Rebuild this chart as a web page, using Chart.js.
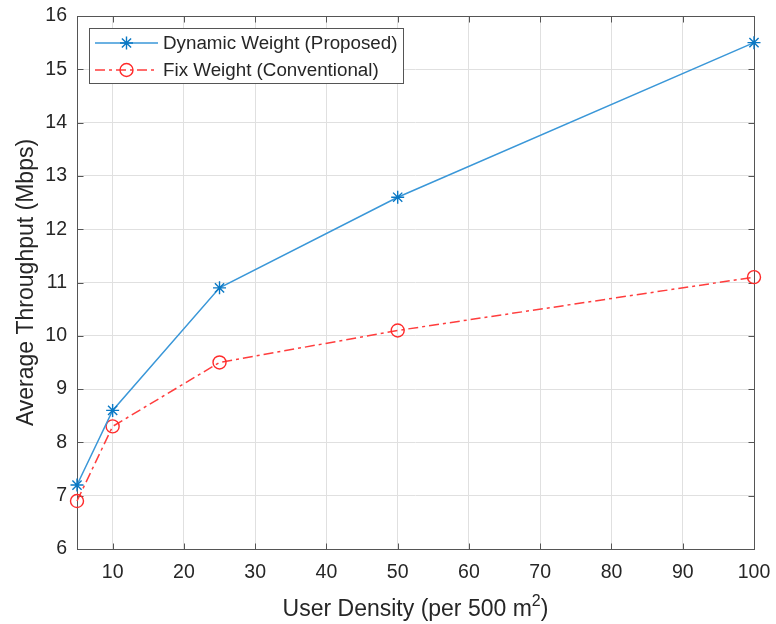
<!DOCTYPE html>
<html>
<head>
<meta charset="utf-8">
<script src="https://cdn.jsdelivr.net/npm/chart.js@4"></script>
<style>
  html, body { margin: 0; padding: 0; background: #fff; }
  #wrap { width: 776px; height: 624px; }
</style>
</head>
<body>
<div id="wrap"><canvas id="chart" width="776" height="624"></canvas></div>
<script>
// データ
const userDensity = [5, 10, 25, 50, 100];
const dynamicWeight = [7.2, 8.6, 10.9, 12.6, 15.5];
const fixWeight = [6.9, 8.3, 9.5, 10.1, 11.1];
const seriesLabels = ['Dynamic Weight (Proposed)', 'Fix Weight (Conventional)'];
const xTicks = [10, 20, 30, 40, 50, 60, 70, 80, 90, 100];
const yTicks = [6, 7, 8, 9, 10, 11, 12, 13, 14, 15, 16];
const xTitle = ['User Density (per 500 m', '2', ')'];
const yTitle = 'Average Throughput (Mbps)';

const FONT = '"Liberation Sans", Arial, Helvetica, sans-serif';
const TEXT = '#262626';
const AXIS = '#555555';

function toPoints(xs, ys) {
  return xs.map((x, i) => ({ x: x, y: ys[i] }));
}

// 枠線と内向きの目盛り
const boxPlugin = {
  id: 'box',
  beforeDatasetsDraw(chart) {
    const ctx = chart.ctx;
    const a = chart.chartArea;
    const xs = chart.scales.x, ys = chart.scales.y;
    const L = Math.round(a.left) + 0.5, R = Math.round(a.right) + 0.5;
    const T = Math.round(a.top) + 0.5, B = Math.round(a.bottom) + 0.5;
    const tl = 6;
    ctx.save();
    ctx.strokeStyle = AXIS;
    ctx.lineWidth = 1;
    ctx.beginPath();
    xTicks.forEach(v => {
      const px = Math.round(xs.getPixelForValue(v)) + 0.5;
      ctx.moveTo(px, B); ctx.lineTo(px, B - tl);
      ctx.moveTo(px, T); ctx.lineTo(px, T + tl);
    });
    yTicks.forEach(v => {
      const py = Math.round(ys.getPixelForValue(v)) + 0.5;
      ctx.moveTo(L, py); ctx.lineTo(L + tl, py);
      ctx.moveTo(R, py); ctx.lineTo(R - tl, py);
    });
    ctx.stroke();
    ctx.strokeRect(L, T, R - L, B - T);
    ctx.restore();
  },
  afterDraw(chart) {
    // x軸タイトル（上付き文字つき）
    const ctx = chart.ctx;
    const a = chart.chartArea;
    ctx.save();
    ctx.fillStyle = TEXT;
    ctx.textBaseline = 'alphabetic';
    ctx.textAlign = 'left';
    const big = '23px ' + FONT, small = '16px ' + FONT;
    ctx.font = big;
    const w1 = ctx.measureText(xTitle[0]).width;
    const w3 = ctx.measureText(xTitle[2]).width;
    ctx.font = small;
    const w2 = ctx.measureText(xTitle[1]).width;
    let x = (a.left + a.right) / 2 - (w1 + w2 + w3) / 2;
    const base = 616;
    ctx.font = big;
    ctx.fillText(xTitle[0], x, base);
    x += w1;
    ctx.font = small;
    ctx.fillText(xTitle[1], x, base - 10);
    x += w2;
    ctx.font = big;
    ctx.fillText(xTitle[2], x, base);
    ctx.restore();
  }
};

// 凡例（グラフ内左上）
const legendPlugin = {
  id: 'innerLegend',
  afterDraw(chart) {
    const ctx = chart.ctx;
    const bx = 89.5, by = 28.5, bw = 314, bh = 55;
    ctx.save();
    ctx.fillStyle = '#fff';
    ctx.fillRect(bx, by, bw, bh);
    ctx.strokeStyle = AXIS;
    ctx.lineWidth = 1;
    ctx.strokeRect(bx, by, bw, bh);
    const rows = [43, 70];
    chart.data.datasets.forEach((ds, i) => {
      const y = rows[i];
      ctx.strokeStyle = ds.borderColor;
      ctx.lineWidth = ds.borderWidth;
      ctx.setLineDash(ds.borderDash || []);
      ctx.beginPath();
      ctx.moveTo(95, y); ctx.lineTo(158, y);
      ctx.stroke();
      ctx.setLineDash([]);
      ctx.strokeStyle = ds.pointBorderColor;
      ctx.fillStyle = ds.pointBackgroundColor;
      ctx.lineWidth = ds.pointBorderWidth;
      Chart.helpers.drawPoint(ctx, {
        pointStyle: ds.pointStyle, radius: ds.pointRadius, borderWidth: ds.pointBorderWidth, rotation: 0
      }, 126.5, y);
      ctx.fillStyle = TEXT;
      ctx.font = '18.8px ' + FONT;
      ctx.textBaseline = 'middle';
      ctx.textAlign = 'left';
      ctx.fillText(ds.label, 163, y + 1);
    });
    ctx.restore();
  }
};

const config = {
  type: 'scatter',
  data: {
    datasets: [{
      label: seriesLabels[0],
      data: toPoints(userDensity, dynamicWeight),
      showLine: true,
      borderColor: '#3a97d8',
      borderWidth: 1.5,
      pointStyle: 'star',
      pointRadius: 6.5,
      pointBorderColor: '#0a78c4',
      pointBackgroundColor: '#0a78c4',
      pointBorderWidth: 1.4,
      clip: false
    }, {
      label: seriesLabels[1],
      data: toPoints(userDensity, fixWeight),
      showLine: true,
      borderColor: '#ff3d3d',
      borderWidth: 1.5,
      borderDash: [10, 4, 3, 4],
      pointStyle: 'circle',
      pointRadius: 6.5,
      pointBorderColor: '#ff2a2a',
      pointBackgroundColor: 'rgba(0,0,0,0)',
      pointBorderWidth: 1.4,
      clip: false
    }]
  },
  options: {
    responsive: false,
    animation: false,
    layout: { padding: { top: 16, right: 22, left: 0, bottom: 0 } },
    plugins: {
      legend: { display: false },
      tooltip: { enabled: false }
    },
    scales: {
      x: {
        type: 'linear',
        min: 5,
        max: 100,
        afterBuildTicks: s => { s.ticks = xTicks.map(v => ({ value: v })); },
        afterFit: s => { s.height = 75; s.paddingLeft = 0; s.paddingRight = 0; },
        border: { display: false },
        grid: { color: '#e0e0e0', drawTicks: false },
        ticks: { color: TEXT, padding: 12, font: { family: FONT, size: 19.5 } }
      },
      y: {
        type: 'linear',
        min: 6,
        max: 16,
        afterBuildTicks: s => { s.ticks = yTicks.map(v => ({ value: v })); },
        afterFit: s => { s.width = 77; s.paddingTop = 0; s.paddingBottom = 0; },
        border: { display: false },
        grid: { color: '#e0e0e0', drawTicks: false },
        ticks: { color: TEXT, padding: 10, font: { family: FONT, size: 19.5 } },
        title: {
          display: true,
          text: yTitle,
          color: TEXT,
          font: { family: FONT, size: 23 },
          padding: { top: 13, bottom: 0 }
        }
      }
    }
  },
  plugins: [boxPlugin, legendPlugin]
};

new Chart(document.getElementById('chart'), config);
</script>
</body>
</html>
